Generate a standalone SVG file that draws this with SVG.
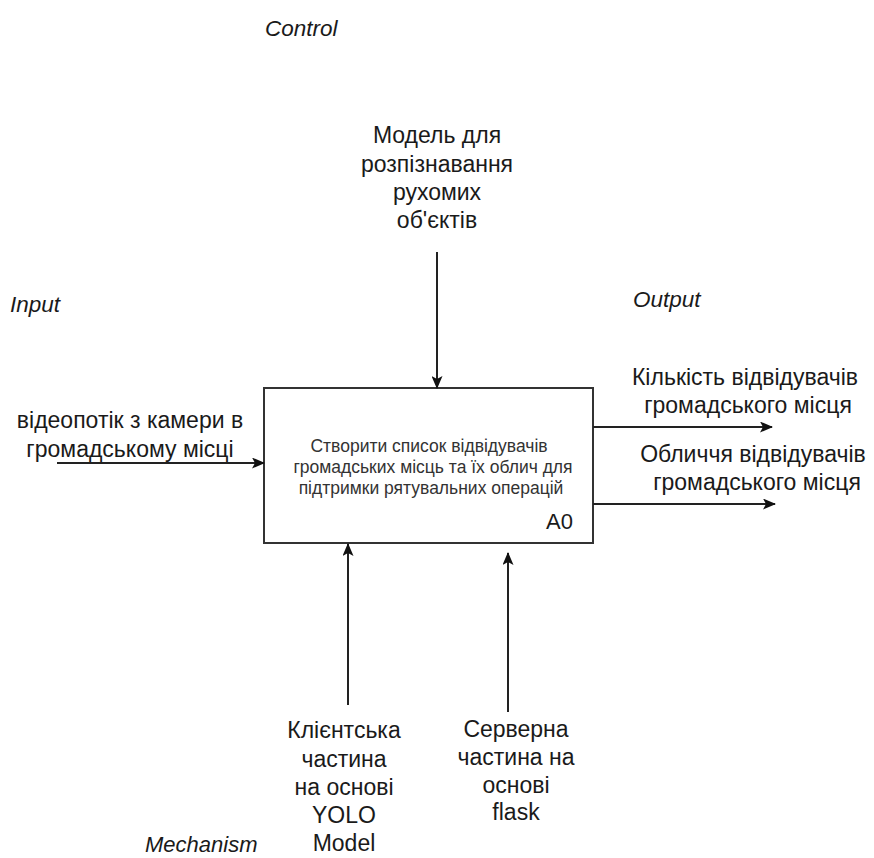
<svg xmlns="http://www.w3.org/2000/svg" width="874" height="858" viewBox="0 0 874 858">
<style>
.t{font-family:"Liberation Sans",Arial,sans-serif;font-size:23px;fill:#1a1a1a;text-anchor:middle}
.l{font-family:"Liberation Sans",Arial,sans-serif;font-size:22.5px;font-style:italic;fill:#1a1a1a}
.b{font-family:"Liberation Sans",Arial,sans-serif;font-size:17.5px;fill:#333;text-anchor:middle}
.c{stroke:#222;stroke-width:2;fill:none;marker-end:url(#ah)}
</style>
<defs>
<marker id="ah" markerWidth="13" markerHeight="11" refX="12" refY="5.5" orient="auto" markerUnits="userSpaceOnUse">
<path d="M0,0 L13,5.5 L0,11 L3,5.5 Z" fill="#111"/>
</marker>
</defs>
<rect width="874" height="858" fill="#fff"/>
<g id="labels">
<text class="l" x="265" y="36">Control</text>
<text class="l" x="10" y="312">Input</text>
<text class="l" x="633" y="307">Output</text>
<text class="l" x="145" y="852" style="font-size:22px">Mechanism</text>
</g>
<g id="A0">
<rect x="264" y="388" width="329" height="155" fill="#fff" stroke="#333" stroke-width="2"/>
<text class="b" x="429" y="452">Створити список відвідувачів</text>
<text class="b" x="433" y="473">громадських місць та їх облич для</text>
<text class="b" x="431" y="494">підтримки рятувальних операцій</text>
<text x="573" y="529" style="font-family:'Liberation Sans',Arial,sans-serif;font-size:22px;fill:#1a1a1a;text-anchor:end">A0</text>
</g>
<g id="control">
<text class="t" x="437" y="143">Модель для</text>
<text class="t" x="437" y="172">розпізнавання</text>
<text class="t" x="437" y="200">рухомих</text>
<text class="t" x="437" y="228">об'єктів</text>
</g>
<g id="input">
<text class="t" x="130" y="428">відеопотік з камери в</text>
<text class="t" x="130" y="457">громадському місці</text>
</g>
<g id="output1">
<text class="t" x="745" y="385">Кількість відвідувачів</text>
<text class="t" x="748" y="413">громадського місця</text>
</g>
<g id="output2">
<text class="t" x="753" y="462">Обличчя відвідувачів</text>
<text class="t" x="757" y="490">громадського місця</text>
</g>
<g id="mech1">
<text class="t" x="344" y="738">Клієнтська</text>
<text class="t" x="344" y="767">частина</text>
<text class="t" x="344" y="795">на основі</text>
<text class="t" x="344" y="823">YOLO</text>
<text class="t" x="344" y="851">Model</text>
</g>
<g id="mech2">
<text class="t" x="516" y="737">Серверна</text>
<text class="t" x="516" y="765">частина на</text>
<text class="t" x="516" y="793">основі</text>
<text class="t" x="516" y="820">flask</text>
</g>
<g id="connectors">
<path class="c" d="M437,252 V388"/>
<path class="c" d="M57,463 H264"/>
<path class="c" d="M593,427 H772"/>
<path class="c" d="M593,504 H775"/>
<path class="c" d="M348,705 V544"/>
<path class="c" d="M508,712 V553"/>
</g>
</svg>
